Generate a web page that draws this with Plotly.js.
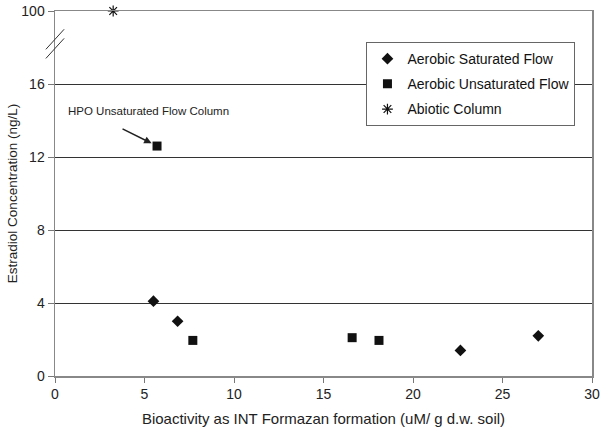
<!DOCTYPE html>
<html>
<head>
<meta charset="utf-8">
<script src="https://cdn.plot.ly/plotly-3.0.1.min.js"></script>
<style>html,body{margin:0;padding:0;background:#fff;}#chart{width:601px;height:432px;}</style>
</head>
<body>
<div id="chart"></div>
<script>
// Data
var satX = [5.5, 6.85, 22.65, 27.0];
var satY = [4.1, 3.0, 1.4, 2.2];
var unsatX = [5.7, 7.7, 16.6, 18.1];
var unsatY = [12.6, 1.95, 2.1, 1.95];
var abioticX = [3.25];
var abioticY = [100];
var yTickVals = [0, 4, 8, 12, 16, 100];
var xTickVals = [0, 5, 10, 15, 20, 25, 30];

// broken axis: values above 16 are drawn at the break-top position
var BREAK_LOW = 16, BREAK_TOP = 20;
function brk(v) { return v > BREAK_LOW ? BREAK_TOP : v; }

var font = 'Liberation Sans, Arial, sans-serif';

var traces = [
  {x: satX, y: satY.map(brk), name: 'Aerobic Saturated Flow', type: 'scatter', mode: 'markers',
   legendgroup: 'a', marker: {symbol: 'diamond', size: 9, color: '#111'}},
  {x: unsatX, y: unsatY.map(brk), name: 'Aerobic Unsaturated Flow', type: 'scatter', mode: 'markers',
   legendgroup: 'b', marker: {symbol: 'square', size: 9, color: '#111'}},
  {x: abioticX, y: abioticY.map(brk), name: 'Abiotic Column', type: 'scatter', mode: 'markers',
   legendgroup: 'c', cliponaxis: false,
   marker: {symbol: 'asterisk-open', size: 9, color: '#111', line: {color: '#111', width: 1.2}}}
];

var layout = {
  width: 601, height: 432,
  margin: {l: 55, r: 9, t: 11, b: 56},
  paper_bgcolor: '#fff', plot_bgcolor: '#fff',
  font: {family: font, size: 14, color: '#222'},
  showlegend: true,
  legend: {x: 0.58, y: 0.915, xanchor: 'left', yanchor: 'top',
           bordercolor: '#666', borderwidth: 1, bgcolor: '#fff',
           font: {family: font, size: 14, color: '#111'},
           tracegroupgap: 4, itemwidth: 30},
  xaxis: {range: [0, 30], tickvals: xTickVals, ticks: 'outside', ticklen: 5, tickcolor: '#777',
          showline: true, linecolor: '#888', linewidth: 1.5, mirror: true, showgrid: false, zeroline: false,
          tickfont: {size: 14, color: '#222'},
          title: {text: 'Bioactivity as INT Formazan formation (uM/ g d.w. soil)', font: {size: 15, color: '#222'}, standoff: 12}},
  yaxis: {range: [0, BREAK_TOP], tickvals: yTickVals.map(brk), ticktext: yTickVals.map(String),
          ticks: 'outside', ticklen: 6, tickcolor: '#777',
          showline: true, linecolor: '#888', linewidth: 1.5, mirror: true,
          showgrid: true, gridcolor: '#333', gridwidth: 1, zeroline: false,
          tickfont: {size: 14, color: '#222'},
          title: {text: 'Estradiol Concentration (ng/L)', font: {size: 13.5, color: '#222'}, standoff: 0}},
  shapes: [
    {type: 'line', xref: 'paper', yref: 'y', x0: -0.017, x1: 0.017, y0: 17.9, y1: 19.0,
     line: {color: '#333', width: 1}},
    {type: 'line', xref: 'paper', yref: 'y', x0: -0.017, x1: 0.017, y0: 17.4, y1: 18.5,
     line: {color: '#333', width: 1}}
  ],
  annotations: [
    {x: unsatX[0], y: brk(unsatY[0]), xref: 'x', yref: 'y',
     text: '', showarrow: true, arrowhead: 2, arrowsize: 1, arrowwidth: 1.5,
     arrowcolor: '#222', ax: -36, ay: -18, standoff: 6},
    {x: 5.2, y: 14.5, xref: 'x', yref: 'y', showarrow: false,
     text: 'HPO Unsaturated Flow Column', xanchor: 'center', yanchor: 'middle',
     font: {family: font, size: 11.5, color: '#222'}}
  ]
};

Plotly.newPlot('chart', traces, layout, {displayModeBar: false, staticPlot: true});
</script>
</body>
</html>
